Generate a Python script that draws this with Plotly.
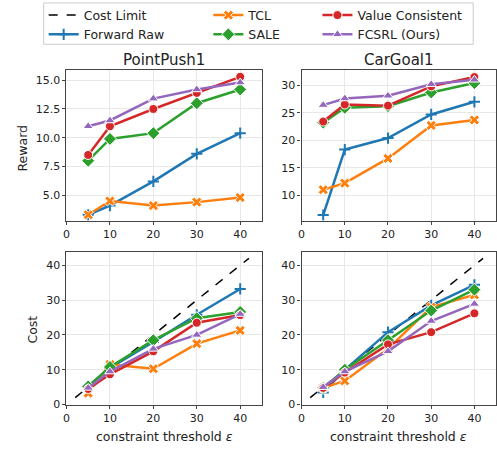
import plotly.graph_objects as go

thresholds = [5, 10, 20, 30, 40]
methods = ["Forward Raw", "TCL", "SALE", "Value Consistent", "FCSRL (Ours)"]
colors = ["#1f77b4", "#ff7f0e", "#2ca02c", "#d62728", "#9467bd"]
symbols = ["cross-thin", "x", "diamond", "circle", "triangle-up"]

pp_reward = {
    "Forward Raw": [3.3, 4.1, 6.2, 8.6, 10.4],
    "TCL": [3.3, 4.5, 4.1, 4.4, 4.8],
    "SALE": [8.0, 9.9, 10.4, 13.0, 14.2],
    "Value Consistent": [8.5, 11.0, 12.5, 13.9, 15.3],
    "FCSRL (Ours)": [11.0, 11.5, 13.4, 14.2, 14.8],
}
cg_reward = {
    "Forward Raw": [6.4, 18.3, 20.4, 24.7, 27.0],
    "TCL": [11.0, 12.2, 16.7, 22.7, 23.7],
    "SALE": [23.2, 25.9, 26.2, 28.7, 30.4],
    "Value Consistent": [23.4, 26.5, 26.3, 29.8, 31.5],
    "FCSRL (Ours)": [26.4, 27.6, 28.1, 30.2, 31.0],
}
pp_cost = {
    "Forward Raw": [5.3, 10.5, 18.0, 25.8, 33.2],
    "TCL": [3.3, 11.5, 10.3, 17.5, 21.3],
    "SALE": [5.2, 10.8, 18.5, 24.8, 26.6],
    "Value Consistent": [4.5, 8.7, 15.3, 23.5, 25.7],
    "FCSRL (Ours)": [4.8, 9.5, 16.0, 20.0, 26.0],
}
cg_cost = {
    "Forward Raw": [3.5, 10.0, 20.8, 28.5, 34.4],
    "TCL": [4.8, 6.8, 16.0, 28.0, 31.5],
    "SALE": [4.8, 10.0, 18.5, 27.0, 33.0],
    "Value Consistent": [4.8, 9.2, 17.3, 20.8, 26.2],
    "FCSRL (Ours)": [5.0, 9.5, 15.3, 24.0, 28.9],
}
cost_limit_x = [2, 42]
cost_limit_y = [2, 42]

panels = [
    ("x", "y", pp_reward),
    ("x2", "y2", cg_reward),
    ("x3", "y3", pp_cost),
    ("x4", "y4", cg_cost),
]

FONT = "DejaVu Sans"
fig = go.Figure()

legend_of = {"Forward Raw": "legend", "TCL": "legend2", "SALE": "legend2",
             "Value Consistent": "legend3", "FCSRL (Ours)": "legend3"}

# cost limit lines
for i, (xa, ya) in enumerate([("x3", "y3"), ("x4", "y4")]):
    fig.add_trace(go.Scatter(
        x=cost_limit_x, y=cost_limit_y, mode="lines", xaxis=xa, yaxis=ya,
        line=dict(color="black", width=1.5, dash="dash"),
        name="Cost Limit", legend="legend", legendrank=1, showlegend=(i == 0)))

for pi, (xa, ya, data) in enumerate(panels):
    for mi, m in enumerate(methods):
        sym = symbols[mi]
        if sym == "cross-thin":
            mk = dict(symbol=sym, size=8, color=colors[mi],
                      line=dict(color=colors[mi], width=2))
        else:
            sz = {"x": 9, "diamond": 10, "circle": 9, "triangle-up": 9}[sym]
            mk = dict(symbol=sym, size=sz, color=colors[mi],
                      line=dict(color="white", width=1))
        fig.add_trace(go.Scatter(
            x=thresholds, y=data[m], mode="lines+markers", xaxis=xa, yaxis=ya,
            line=dict(color=colors[mi], width=2.5), marker=mk, name=m,
            legend=legend_of[m], legendrank=10 + mi, showlegend=(pi == 0)))

grid = "#e8e8e8"
axcommon = dict(showline=True, linecolor="#444", linewidth=1.2, mirror=True,
                showgrid=True, gridcolor=grid, gridwidth=1, zeroline=False,
                ticks="outside", ticklen=3, tickcolor="#444",
                tickfont=dict(family=FONT, size=11, color="#222"))
xdom_l = [63 / 497, 260 / 497]
xdom_r = [300 / 497, 496 / 497]
ydom_t = [1 - 224 / 451, 1 - 71 / 451]
ydom_b = [1 - 411 / 451, 1 - 256 / 451]

fig.update_layout(
    width=497, height=451, margin=dict(l=0, r=0, t=0, b=0),
    paper_bgcolor="white", plot_bgcolor="white",
    font=dict(family=FONT, size=12, color="#222"),
    xaxis=dict(domain=xdom_l, anchor="y", range=[0, 45], tickvals=[0, 10, 20, 30, 40], **axcommon),
    yaxis=dict(domain=ydom_t, anchor="x", range=[2.8, 15.9], tickvals=[5, 7.5, 10, 12.5, 15],
               ticktext=["5.0", "7.5", "10.0", "12.5", "15.0"], **axcommon),
    xaxis2=dict(domain=xdom_r, anchor="y2", range=[0, 45], tickvals=[0, 10, 20, 30, 40], **axcommon),
    yaxis2=dict(domain=ydom_t, anchor="x2", range=[5.4, 32.8], tickvals=[10, 15, 20, 25, 30], **axcommon),
    xaxis3=dict(domain=xdom_l, anchor="y3", range=[0, 45], tickvals=[0, 10, 20, 30, 40], **axcommon),
    yaxis3=dict(domain=ydom_b, anchor="x3", range=[0, 43.8], tickvals=[0, 10, 20, 30, 40], **axcommon),
    xaxis4=dict(domain=xdom_r, anchor="y4", range=[0, 45], tickvals=[0, 10, 20, 30, 40], **axcommon),
    yaxis4=dict(domain=ydom_b, anchor="x4", range=[0, 43.8], tickvals=[0, 10, 20, 30, 40], **axcommon),
)

legbase = dict(orientation="v", bgcolor="rgba(0,0,0,0)", borderwidth=0,
               font=dict(family=FONT, size=12.5, color="#222"),
               yanchor="top", xanchor="left", tracegroupgap=0, itemwidth=30)
fig.update_layout(
    legend=dict(x=40 / 497, y=1 - 0.5 / 451, **legbase),
    legend2=dict(x=206 / 497, y=1 - 0.5 / 451, **legbase),
    legend3=dict(x=316 / 497, y=1 - 0.5 / 451, **legbase),
)

# legend frame
fig.add_shape(type="rect", xref="paper", yref="paper",
              x0=40 / 497, x1=473 / 497, y0=1 - 45 / 451, y1=1 - 3 / 451,
              line=dict(color="#cccccc", width=1), fillcolor="rgba(0,0,0,0)",
              layer="below")

ann = [
    dict(text="PointPush1", x=161.5 / 497, y=1 - 61 / 451, size=15),
    dict(text="CarGoal1", x=398 / 497, y=1 - 61 / 451, size=15),
    dict(text="Reward", x=19 / 497, y=1 - 150 / 451, textangle=-90, size=12.5),
    dict(text="Cost", x=29 / 497, y=1 - 335 / 451, textangle=-90, size=12.5),
    dict(text="constraint threshold <i>ε</i>", x=161.5 / 497, y=1 - 443 / 451, size=12.5),
    dict(text="constraint threshold <i>ε</i>", x=398 / 497, y=1 - 443 / 451, size=12.5),
]
for a in ann:
    fig.add_annotation(xref="paper", yref="paper", showarrow=False,
                       xanchor="center", yanchor="middle",
                       font=dict(family=FONT, color="#222", size=a["size"]),
                       text=a["text"], x=a["x"], y=a["y"],
                       textangle=a.get("textangle", 0))

fig.write_html("out.html", config={"displayModeBar": False},
               post_script="document.body.style.margin='0';document.body.style.overflow='hidden';")
